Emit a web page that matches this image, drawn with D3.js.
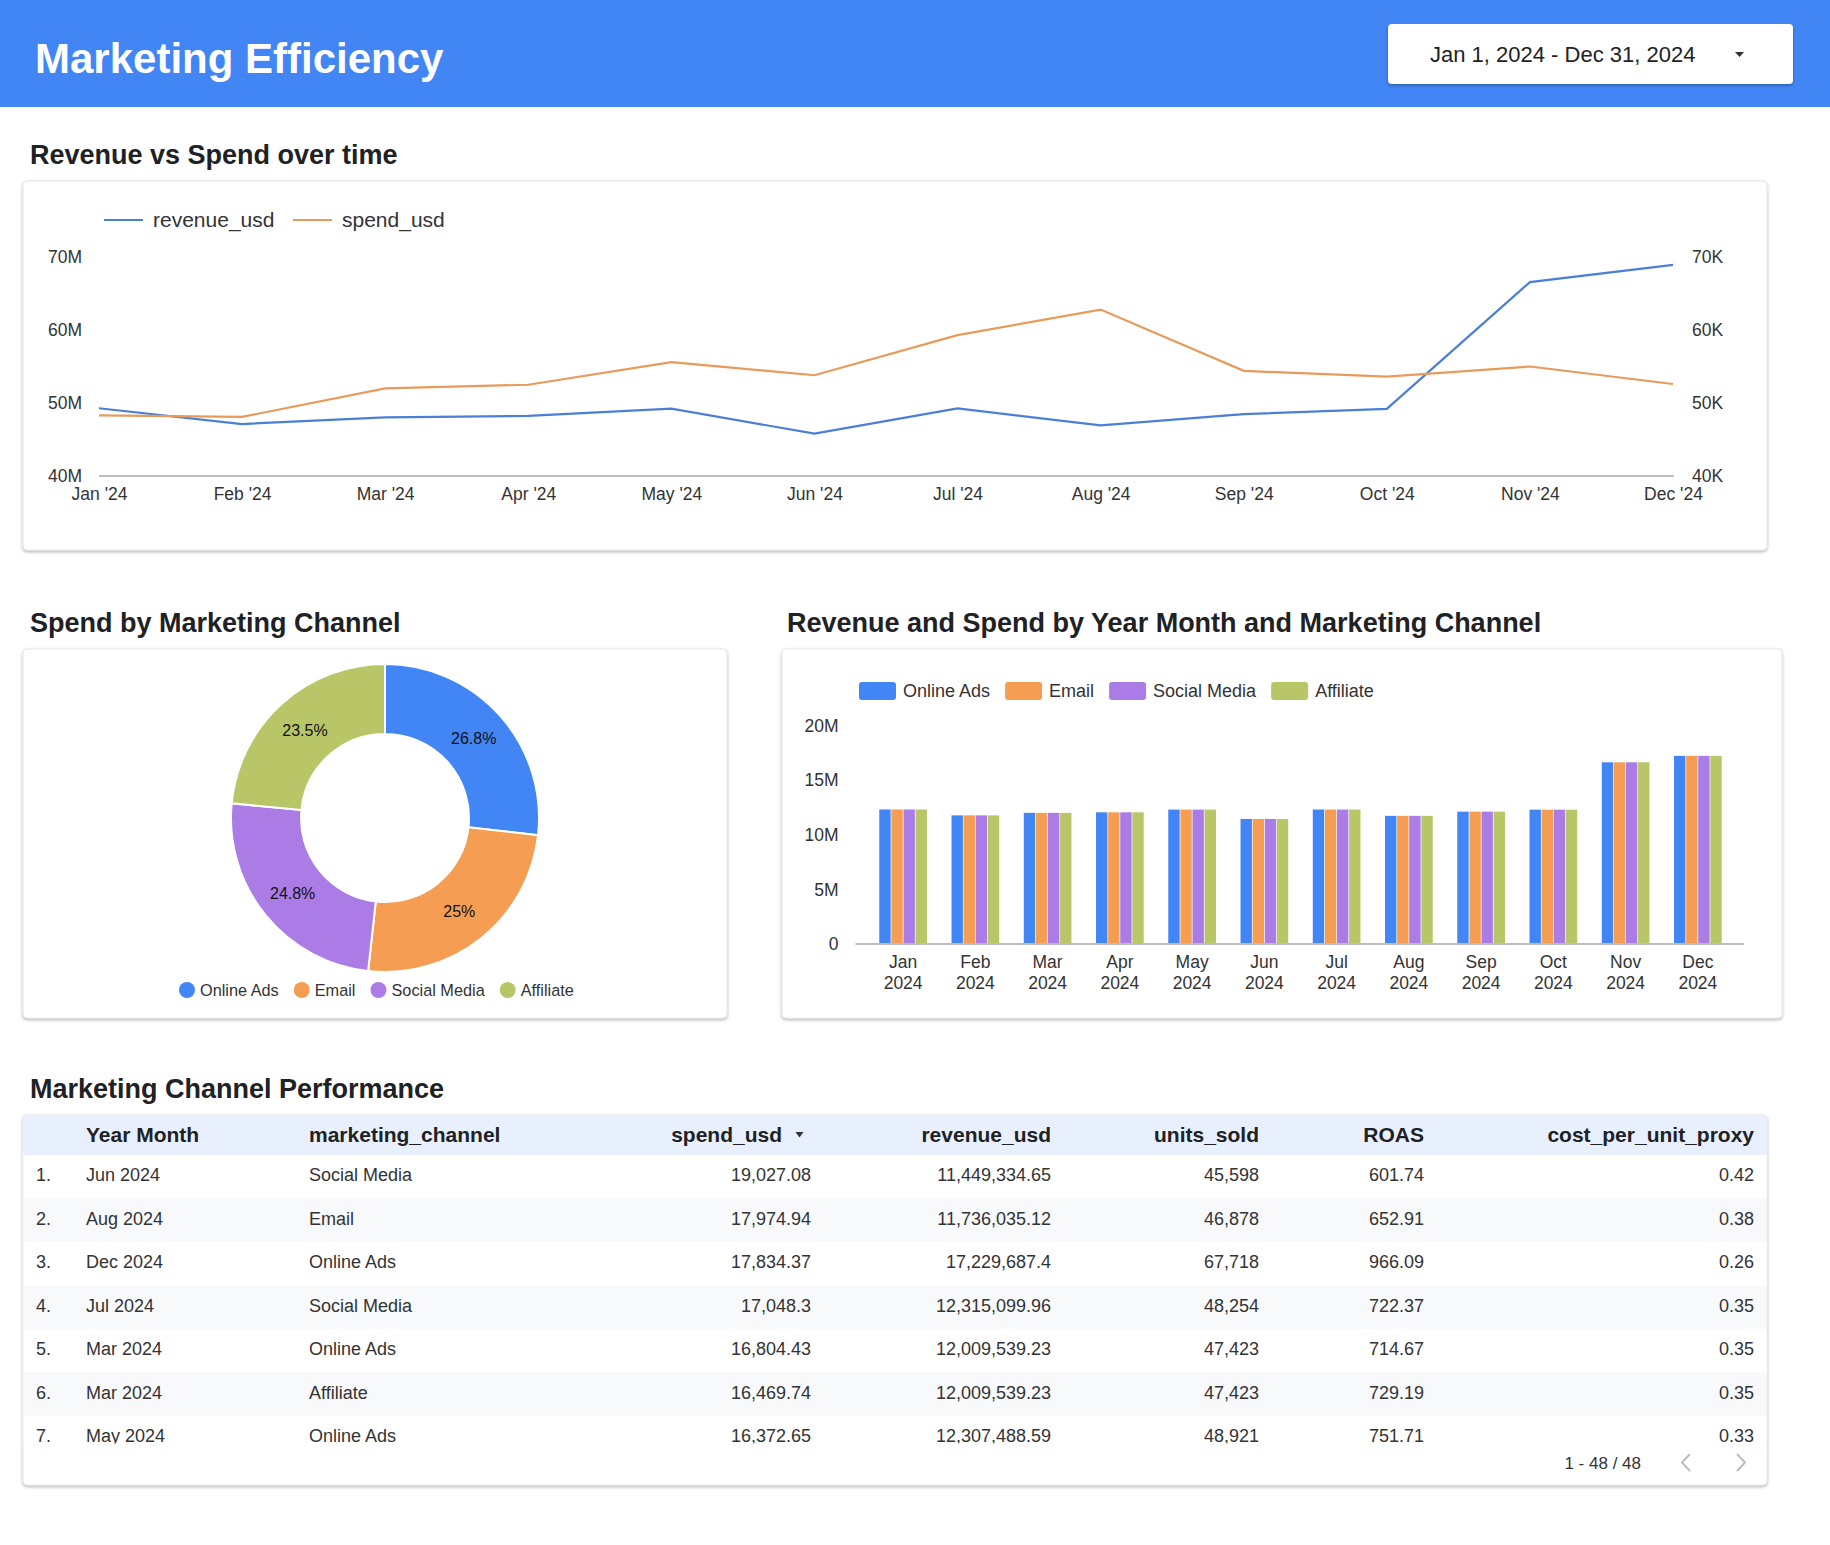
<!DOCTYPE html>
<html>
<head>
<meta charset="utf-8">
<script src="https://cdn.jsdelivr.net/npm/d3@7"></script>
<style>
  body { margin: 0; background: #fff; }
  svg text { font-family: "Liberation Sans", Arial, Helvetica, sans-serif; }
</style>
</head>
<body>
<div id="container"></div>
<script>
// DATA
const dateRange = "Jan 1, 2024 - Dec 31, 2024";
const months = ["Jan '24", "Feb '24", "Mar '24", "Apr '24", "May '24", "Jun '24",
                "Jul '24", "Aug '24", "Sep '24", "Oct '24", "Nov '24", "Dec '24"];
const barMonths = ["Jan", "Feb", "Mar", "Apr", "May", "Jun", "Jul", "Aug", "Sep", "Oct", "Nov", "Dec"];
const barYear = "2024";
const channels = ["Online Ads", "Email", "Social Media", "Affiliate"];
const channelColors = ["#4285f4", "#f59d52", "#ab7ce5", "#b8c668"];
// revenue per channel per month (every channel books the same revenue in a month)
const channelRevenue = [12320000, 11780000, 12009539.23, 12060000, 12307488.59, 11449334.65,
                        12315099.96, 11736035.12, 12120000, 12300000, 16640000, 17229687.4];
const monthlySpend = [48300, 48100, 52000, 52500, 55600, 53800, 59300, 62800, 54400, 53600, 55000, 52600];
const channelSpend = [173700, 162000, 160700, 152300];
const revenueTicks = [40e6, 50e6, 60e6, 70e6];
const spendTicks = [40000, 50000, 60000, 70000];
const barTicks = [0, 5e6, 10e6, 15e6, 20e6];

// table
const tableColumns = ["Year Month", "marketing_channel", "spend_usd", "revenue_usd", "units_sold", "ROAS", "cost_per_unit_proxy"];
const tableMonths = ["Jun 2024", "Aug 2024", "Dec 2024", "Jul 2024", "Mar 2024", "Mar 2024", "May 2024"];
const tableChannels = ["Social Media", "Email", "Online Ads", "Social Media", "Online Ads", "Affiliate", "Online Ads"];
const tableSpend = [19027.08, 17974.94, 17834.37, 17048.3, 16804.43, 16469.74, 16372.65];
const tableRevenue = [11449334.65, 11736035.12, 17229687.4, 12315099.96, 12009539.23, 12009539.23, 12307488.59];
const tableUnits = [45598, 46878, 67718, 48254, 47423, 47423, 48921];
const tableRoas = [601.74, 652.91, 966.09, 722.37, 714.67, 729.19, 751.71];
const tableCost = [0.42, 0.38, 0.26, 0.35, 0.35, 0.35, 0.33];
const pageLabel = "1 - 48 / 48";

const W = 1830, H = 1545;
const textColor = "#333";
const titleColor = "#202124";

// SVG
const svg = d3.select('#container')
              .append('svg')
              .attr('width', W)
              .attr('height', H);

const defs = svg.append('defs');
defs.append('filter')
    .attr('id', 'shadow')
    .attr('x', '-5%').attr('y', '-5%')
    .attr('width', '110%').attr('height', '115%')
    .append('feDropShadow')
    .attr('dx', 0).attr('dy', 1.5)
    .attr('stdDeviation', 1.4)
    .attr('flood-color', '#000')
    .attr('flood-opacity', 0.3);

function card(x, y, w, h) {
  svg.append('rect')
     .attr('x', x).attr('y', y)
     .attr('width', w).attr('height', h)
     .attr('rx', 4)
     .attr('fill', '#fff')
     .attr('stroke', '#e6e6e6')
     .attr('filter', 'url(#shadow)');
}

function sectionTitle(x, y, label) {
  svg.append('text')
     .attr('x', x).attr('y', y)
     .attr('font-size', 27)
     .attr('font-weight', 'bold')
     .attr('fill', titleColor)
     .text(label);
}

function styleAxis(g, size) {
  g.select('.domain').remove();
  g.selectAll('text')
   .attr('font-size', size)
   .attr('font-family', null)
   .attr('fill', textColor);
}

// HEADER
svg.append('rect')
   .attr('width', W).attr('height', 107)
   .attr('fill', '#4285f4');

svg.append('text')
   .attr('x', 35).attr('y', 73)
   .attr('font-size', 42)
   .attr('font-weight', 'bold')
   .attr('fill', '#fff')
   .text("Marketing Efficiency");

svg.append('rect')
   .attr('x', 1388).attr('y', 24)
   .attr('width', 405).attr('height', 60)
   .attr('rx', 4)
   .attr('fill', '#fff')
   .attr('filter', 'url(#shadow)');

svg.append('text')
   .attr('x', 1430).attr('y', 62)
   .attr('font-size', 22)
   .attr('fill', '#222')
   .text(dateRange);

svg.append('path')
   .attr('d', 'M1735,52 L1744,52 L1739.5,57 Z')
   .attr('fill', '#333');

// LINE CHART
sectionTitle(30, 164, "Revenue vs Spend over time");
card(23, 181, 1744, 369);

const monthlyRevenue = channelRevenue.map(v => v * channels.length);

const xLine = d3.scalePoint()
                .domain(months)
                .range([99, 1673]);
const yRevenue = d3.scaleLinear()
                   .domain([40e6, 70e6])
                   .range([476, 257]);
const ySpend = d3.scaleLinear()
                 .domain([40000, 70000])
                 .range([476, 257]);

svg.append('line')
   .attr('x1', 99).attr('x2', 1674)
   .attr('y1', 476).attr('y2', 476)
   .attr('stroke', '#bdbdbd')
   .attr('stroke-width', 2);

svg.append('g')
   .attr('transform', 'translate(0,476)')
   .call(d3.axisBottom(xLine).tickSize(0).tickPadding(12))
   .call(g => styleAxis(g, 17.5));

svg.append('g')
   .attr('transform', 'translate(82,0)')
   .call(d3.axisLeft(yRevenue).tickValues(revenueTicks).tickFormat(d3.format('~s')).tickSize(0).tickPadding(0))
   .call(g => styleAxis(g, 17.5));

svg.append('g')
   .attr('transform', 'translate(1692,0)')
   .call(d3.axisRight(ySpend).tickValues(spendTicks).tickFormat(d => d / 1000 + 'K').tickSize(0).tickPadding(0))
   .call(g => styleAxis(g, 17.5));

const revenueLine = d3.line()
                      .x((d, i) => xLine(months[i]))
                      .y(d => yRevenue(d));
const spendLine = d3.line()
                    .x((d, i) => xLine(months[i]))
                    .y(d => ySpend(d));

svg.append('path')
   .datum(monthlyRevenue)
   .attr('d', revenueLine)
   .attr('fill', 'none')
   .attr('stroke', '#4a7fd6')
   .attr('stroke-width', 2.2);

svg.append('path')
   .datum(monthlySpend)
   .attr('d', spendLine)
   .attr('fill', 'none')
   .attr('stroke', '#e89a5a')
   .attr('stroke-width', 2.2);

// line legend
const lineLegend = [
  {label: "revenue_usd", color: '#4a7fd6', x: 104},
  {label: "spend_usd", color: '#e89a5a', x: 293}
];
lineLegend.forEach(d => {
  svg.append('line')
     .attr('x1', d.x).attr('x2', d.x + 39)
     .attr('y1', 220).attr('y2', 220)
     .attr('stroke', d.color)
     .attr('stroke-width', 2);
  svg.append('text')
     .attr('x', d.x + 49).attr('y', 220)
     .attr('dy', '0.35em')
     .attr('font-size', 21)
     .attr('fill', textColor)
     .text(d.label);
});

// PIE CHART
sectionTitle(30, 632, "Spend by Marketing Channel");
card(23, 649, 704, 369);

const pieCenter = [385, 818];
const pie = d3.pie().sort(null).value(d => d);
const arcs = pie(channelSpend);
const arc = d3.arc().innerRadius(84).outerRadius(154);
const labelArc = d3.arc().innerRadius(119).outerRadius(119);
const spendTotal = d3.sum(channelSpend);
const pctFormat = d3.format('.3~r');

const pieG = svg.append('g')
                .attr('transform', `translate(${pieCenter[0]},${pieCenter[1]})`);

pieG.selectAll('path.slice')
    .data(arcs).enter()
    .append('path')
    .attr('class', 'slice')
    .attr('d', arc)
    .attr('fill', (d, i) => channelColors[i])
    .attr('stroke', '#fff')
    .attr('stroke-width', 2);

pieG.selectAll('text.pct')
    .data(arcs).enter()
    .append('text')
    .attr('class', 'pct')
    .attr('transform', d => `translate(${labelArc.centroid(d)})`)
    .attr('text-anchor', 'middle')
    .attr('dy', '0.35em')
    .attr('font-size', 16)
    .attr('fill', '#111')
    .text(d => pctFormat(d.value / spendTotal * 100) + '%');

// pie legend
let legendX = 179;
channels.forEach((c, i) => {
  svg.append('circle')
     .attr('cx', legendX + 8).attr('cy', 990)
     .attr('r', 8)
     .attr('fill', channelColors[i]);
  const t = svg.append('text')
               .attr('x', legendX + 21).attr('y', 990)
               .attr('dy', '0.35em')
               .attr('font-size', 16.3)
               .attr('fill', textColor)
               .text(c);
  legendX += 21 + t.node().getComputedTextLength() + 15;
});

// BAR CHART
sectionTitle(787, 632, "Revenue and Spend by Year Month and Marketing Channel");
card(782, 649, 1000, 369);

const xBar = d3.scaleBand()
               .domain(barMonths)
               .range([867, 1734])
               .paddingInner(0.34)
               .paddingOuter(0.17);
const xSub = d3.scaleBand()
               .domain(channels)
               .range([0, xBar.bandwidth()])
               .paddingInner(0.06);
const yBar = d3.scaleLinear()
               .domain([0, 20e6])
               .range([944, 725.6]);

const barData = [];
barMonths.forEach((m, i) => {
  channels.forEach((c, j) => {
    barData.push({month: m, channel: c, value: channelRevenue[i], color: channelColors[j]});
  });
});

svg.selectAll('rect.bar')
   .data(barData).enter()
   .append('rect')
   .attr('class', 'bar')
   .attr('x', d => xBar(d.month) + xSub(d.channel))
   .attr('y', d => yBar(d.value))
   .attr('width', xSub.bandwidth())
   .attr('height', d => yBar(0) - yBar(d.value))
   .attr('fill', d => d.color);

svg.append('line')
   .attr('x1', 855.5).attr('x2', 1744)
   .attr('y1', 944).attr('y2', 944)
   .attr('stroke', '#bdbdbd')
   .attr('stroke-width', 2);

svg.append('g')
   .attr('transform', 'translate(838.5,0)')
   .call(d3.axisLeft(yBar).tickValues(barTicks).tickFormat(d3.format('~s')).tickSize(0).tickPadding(0))
   .call(g => styleAxis(g, 17.5));

const barLabels = svg.append('g')
                     .selectAll('text')
                     .data(barMonths).enter()
                     .append('text')
                     .attr('text-anchor', 'middle')
                     .attr('font-size', 17.5)
                     .attr('fill', textColor);
barLabels.append('tspan')
         .attr('x', d => xBar(d) + xBar.bandwidth() / 2)
         .attr('y', 968)
         .text(d => d);
barLabels.append('tspan')
         .attr('x', d => xBar(d) + xBar.bandwidth() / 2)
         .attr('y', 989)
         .text(barYear);

// bar legend
let barLegendX = 859;
channels.forEach((c, i) => {
  svg.append('rect')
     .attr('x', barLegendX).attr('y', 682)
     .attr('width', 37).attr('height', 18)
     .attr('rx', 3)
     .attr('fill', channelColors[i]);
  const t = svg.append('text')
               .attr('x', barLegendX + 44).attr('y', 691)
               .attr('dy', '0.35em')
               .attr('font-size', 18)
               .attr('fill', textColor)
               .text(c);
  barLegendX += 44 + t.node().getComputedTextLength() + 15;
});

// TABLE
sectionTitle(30, 1098, "Marketing Channel Performance");
card(23, 1115, 1744, 370);

defs.append('clipPath')
    .attr('id', 'table-clip')
    .append('rect')
    .attr('x', 23.5).attr('y', 1115.5)
    .attr('width', 1743).attr('height', 328)
    .attr('rx', 4);

const tableG = svg.append('g').attr('clip-path', 'url(#table-clip)');
const rowH = 43.5;
const bodyTop = 1155;

tableG.append('rect')
      .attr('x', 23).attr('y', 1115)
      .attr('width', 1744).attr('height', 40)
      .attr('fill', '#e8f0fe');

const rows = tableMonths.map((m, i) => ({
  index: (i + 1) + '.',
  cells: [m, tableChannels[i], d3.format(',')(tableSpend[i]), d3.format(',')(tableRevenue[i]),
          d3.format(',')(tableUnits[i]), d3.format(',')(tableRoas[i]), d3.format(',')(tableCost[i])]
}));

// column layout: anchor x and alignment
const colX = [86, 309, 811, 1051, 1259, 1424, 1754];
const colAnchor = ['start', 'start', 'end', 'end', 'end', 'end', 'end'];
const headX = [86, 309, 782, 1051, 1259, 1424, 1754];

tableG.selectAll('rect.row')
      .data(rows).enter()
      .append('rect')
      .attr('class', 'row')
      .attr('x', 23).attr('y', (d, i) => bodyTop + i * rowH)
      .attr('width', 1744).attr('height', rowH)
      .attr('fill', (d, i) => i % 2 === 1 ? '#f8f9fa' : '#fff');

tableColumns.forEach((c, j) => {
  tableG.append('text')
        .attr('x', headX[j]).attr('y', 1135)
        .attr('dy', '0.35em')
        .attr('text-anchor', colAnchor[j])
        .attr('font-size', 21)
        .attr('font-weight', 'bold')
        .attr('fill', titleColor)
        .text(c);
});

// sort arrow on spend_usd
tableG.append('path')
      .attr('d', 'M795.5,1132 L803.5,1132 L799.5,1137.5 Z')
      .attr('fill', '#333');

rows.forEach((r, i) => {
  const cy = bodyTop + i * rowH + rowH / 2 - 2;
  tableG.append('text')
        .attr('x', 36).attr('y', cy)
        .attr('dy', '0.35em')
        .attr('font-size', 18)
        .attr('fill', textColor)
        .text(r.index);
  r.cells.forEach((v, j) => {
    tableG.append('text')
          .attr('x', colX[j]).attr('y', cy)
          .attr('dy', '0.35em')
          .attr('text-anchor', colAnchor[j])
          .attr('font-size', 18)
          .attr('fill', textColor)
          .text(v);
  });
});

// pagination
svg.append('text')
   .attr('x', 1641).attr('y', 1463)
   .attr('dy', '0.35em')
   .attr('text-anchor', 'end')
   .attr('font-size', 17)
   .attr('fill', textColor)
   .text(pageLabel);

svg.append('path')
   .attr('d', 'M1690,1454 L1682,1462.5 L1690,1471')
   .attr('fill', 'none')
   .attr('stroke', '#bdbdbd')
   .attr('stroke-width', 2);
svg.append('path')
   .attr('d', 'M1737,1454 L1745,1462.5 L1737,1471')
   .attr('fill', 'none')
   .attr('stroke', '#bdbdbd')
   .attr('stroke-width', 2);
</script>
</body>
</html>
